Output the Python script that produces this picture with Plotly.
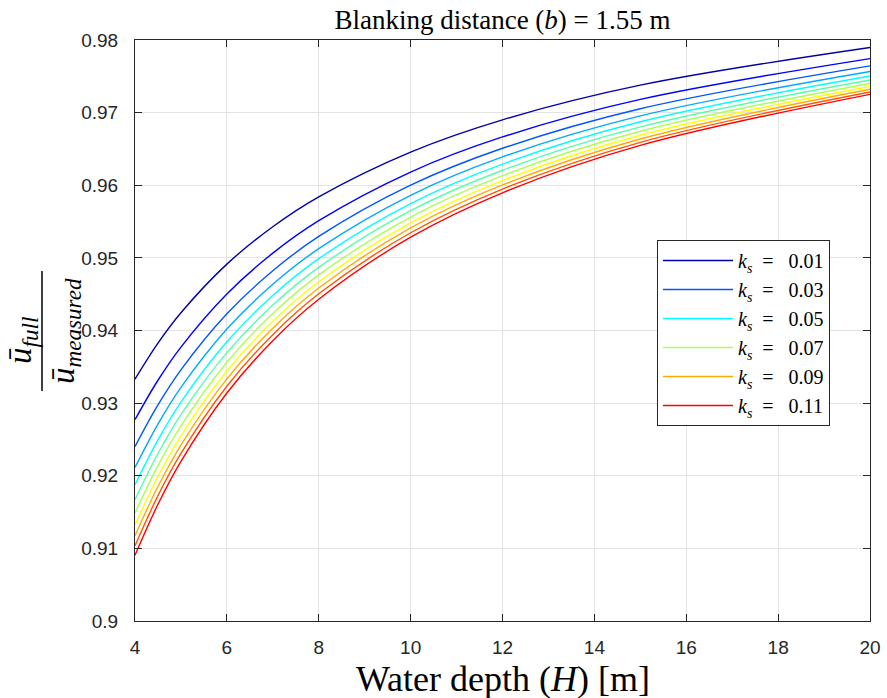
import plotly.graph_objects as go

# Water depth H [m]
depth = [4, 4.5, 5, 6, 7, 8, 10, 12, 15, 20]

ks_labels = ["0.01", "0.02", "0.03", "0.04", "0.05", "0.06", "0.07", "0.08", "0.09", "0.10", "0.11"]

ratio_ks001 = [0.93330, 0.93826, 0.94244, 0.94914, 0.95429, 0.95840, 0.96457, 0.96901, 0.97378, 0.97897]
ratio_ks002 = [0.92773, 0.93315, 0.93772, 0.94503, 0.95065, 0.95512, 0.96182, 0.96665, 0.97182, 0.97744]
ratio_ks003 = [0.92402, 0.92975, 0.93458, 0.94230, 0.94823, 0.95295, 0.96001, 0.96509, 0.97054, 0.97644]
ratio_ks004 = [0.92115, 0.92712, 0.93216, 0.94020, 0.94637, 0.95127, 0.95862, 0.96390, 0.96955, 0.97567]
ratio_ks005 = [0.91876, 0.92494, 0.93015, 0.93845, 0.94483, 0.94989, 0.95747, 0.96291, 0.96874, 0.97504]
ratio_ks006 = [0.91670, 0.92306, 0.92841, 0.93695, 0.94350, 0.94870, 0.95649, 0.96207, 0.96804, 0.97450]
ratio_ks007 = [0.91488, 0.92140, 0.92688, 0.93563, 0.94233, 0.94765, 0.95562, 0.96132, 0.96743, 0.97402]
ratio_ks008 = [0.91324, 0.91990, 0.92550, 0.93443, 0.94128, 0.94671, 0.95483, 0.96065, 0.96688, 0.97360]
ratio_ks009 = [0.91174, 0.91852, 0.92423, 0.93334, 0.94031, 0.94585, 0.95412, 0.96004, 0.96637, 0.97321]
ratio_ks010 = [0.91035, 0.91726, 0.92307, 0.93233, 0.93943, 0.94505, 0.95346, 0.95948, 0.96591, 0.97285]
ratio_ks011 = [0.90905, 0.91607, 0.92198, 0.93139, 0.93860, 0.94431, 0.95285, 0.95896, 0.96548, 0.97252]

series = [ratio_ks001, ratio_ks002, ratio_ks003, ratio_ks004, ratio_ks005, ratio_ks006,
          ratio_ks007, ratio_ks008, ratio_ks009, ratio_ks010, ratio_ks011]

colors = ["rgb(0,0,170)", "rgb(0,0,255)", "rgb(0,85,255)", "rgb(0,170,255)", "rgb(0,255,255)",
          "rgb(85,255,170)", "rgb(170,255,85)", "rgb(255,255,0)", "rgb(255,170,0)",
          "rgb(255,85,0)", "rgb(255,0,0)"]

x_ticks = [4, 6, 8, 10, 12, 14, 16, 18, 20]
y_ticks = [0.9, 0.91, 0.92, 0.93, 0.94, 0.95, 0.96, 0.97, 0.98]
y_ticktext = ["0.9", "0.91", "0.92", "0.93", "0.94", "0.95", "0.96", "0.97", "0.98"]

SERIF = "Liberation Serif, Times New Roman, serif"
SANS = "Liberation Sans, Arial, sans-serif"
AXC = "#262626"

L, R, T, B = 135, 17, 40, 77
W, H = 887, 698
PW, PH = W - L - R, H - T - B


def px_x(p):
    return (p - L) / PW


def px_y(p):
    return (H - B - p) / PH


fig = go.Figure()
for i, (lab, ys, col) in enumerate(zip(ks_labels, series, colors)):
    fig.add_trace(go.Scatter(
        x=depth, y=ys, mode="lines",
        line=dict(color=col, width=1.4, shape="spline", smoothing=1.0),
        name=f"<i>k</i><sub><i>s</i></sub>&nbsp;&nbsp;=&nbsp;&nbsp;&nbsp;{lab}",
        showlegend=(i % 2 == 0),
    ))

fig.update_layout(
    width=W, height=H,
    margin=dict(l=L, r=R, t=T, b=B, autoexpand=False),
    paper_bgcolor="white", plot_bgcolor="white",
    title=dict(text="Blanking distance (<i>b</i>) = 1.55 m", x=0.5, xref="paper", xanchor="center",
               y=1 - 20 / H, yanchor="middle",
               font=dict(family=SERIF, size=27, color="#000000")),
    legend=dict(x=px_x(657), y=px_y(240), xanchor="left", yanchor="top",
                bgcolor="white", bordercolor=AXC, borderwidth=1,
                font=dict(family=SERIF, size=20, color="#000000"),
                itemwidth=70, tracegroupgap=0),
    xaxis=dict(range=[4, 20], tickvals=x_ticks, showgrid=True, gridcolor="#e3e3e3",
               zeroline=False, showline=True, linecolor=AXC, linewidth=1, mirror="ticks",
               ticks="inside", ticklen=7, tickcolor=AXC, ticklabelstandoff=9,
               tickfont=dict(family=SANS, size=19, color=AXC)),
    yaxis=dict(range=[0.9, 0.98], tickvals=y_ticks, ticktext=y_ticktext, showgrid=True,
               gridcolor="#e3e3e3", zeroline=False, showline=True, linecolor=AXC, linewidth=1,
               mirror="ticks", ticks="inside", ticklen=7, tickcolor=AXC,
               tickfont=dict(family=SANS, size=19, color=AXC), ticklabelstandoff=12),
)

# x-axis label
fig.add_annotation(text="Water depth (<i>H</i>) [m]", xref="paper", yref="paper",
                   x=0.5, y=px_y(679), xanchor="center", yanchor="middle",
                   showarrow=False, font=dict(family=SERIF, size=36, color="#000000"))
# y-axis label as a fraction
fig.add_annotation(text="<i>ū</i><sub><i>full</i></sub>", xref="paper", yref="paper",
                   x=px_x(23), y=px_y(340), xanchor="center", yanchor="middle", textangle=-90,
                   showarrow=False, font=dict(family=SERIF, size=33, color="#000000"))
fig.add_annotation(text="<i>ū</i><sub><i>measured</i></sub>", xref="paper", yref="paper",
                   x=px_x(65), y=px_y(331), xanchor="center", yanchor="middle", textangle=-90,
                   showarrow=False, font=dict(family=SERIF, size=33, color="#000000"))
fig.add_shape(type="line", xref="paper", yref="paper",
              x0=px_x(42), x1=px_x(42), y0=px_y(391), y1=px_y(271),
              line=dict(color="#000000", width=1.5))

fig.write_html("out.html", config={"displayModeBar": False})

# remove the default page margin so the figure sits at the window's top-left corner
with open("out.html", "r", encoding="utf-8") as f:
    html = f.read()
html = html.replace("<body>", '<body style="margin:0;padding:0;">', 1)
with open("out.html", "w", encoding="utf-8") as f:
    f.write(html)
